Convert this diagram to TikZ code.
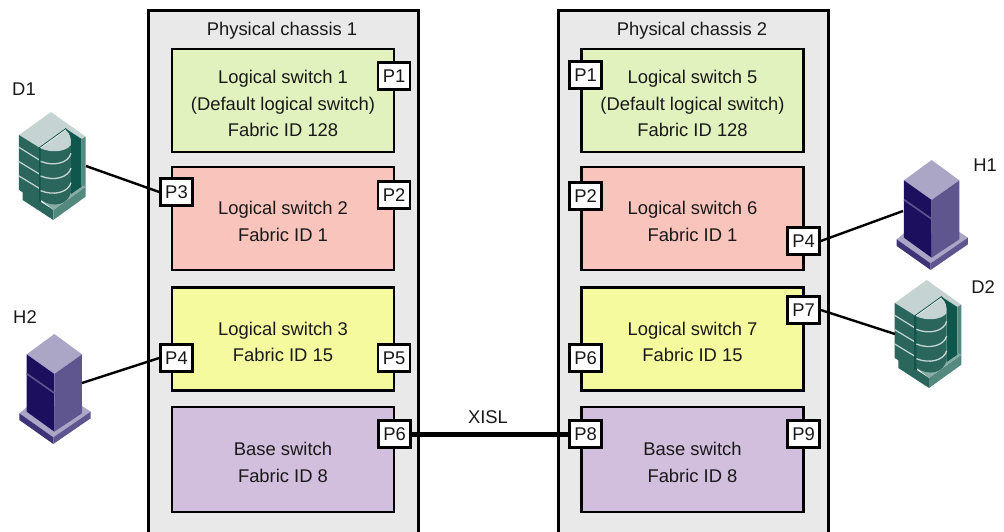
\documentclass[tikz,border=0pt]{standalone}
\usepackage{fontspec}
\setmainfont{Liberation Sans}
\definecolor{chassisfill}{HTML}{E9E9E9}
\definecolor{greenfill}{HTML}{E2F2BE}
\definecolor{redfill}{HTML}{F8C4BC}
\definecolor{yellowfill}{HTML}{F5FA9E}
\definecolor{purplefill}{HTML}{D2BEDD}
\definecolor{tealtop}{HTML}{C5D4D3}
\definecolor{tealdark}{HTML}{2A665C}
\definecolor{tealdeep}{HTML}{0F574C}
\definecolor{tealmid}{HTML}{53897F}
\definecolor{servtop}{HTML}{ABA5C6}
\definecolor{servdark}{HTML}{1B0F5E}
\definecolor{servmid}{HTML}{5F5690}
\newcommand{\sws}{\rule{0pt}{19.5pt}}
\tikzset{
  every node/.style={font=\fontsize{18.4}{26.5}\selectfont,text=black!90},
  chassis/.style={draw=black,line width=3pt,fill=chassisfill},
  switchbox/.style={draw=black,line width=2.6pt,minimum width=222pt,minimum height=103pt,align=center,inner sep=0pt},
  port/.style={draw=black,line width=2.6pt,fill=white,minimum width=32pt,minimum height=27pt,inner sep=0pt},
  link/.style={draw=black,line width=2.4pt},
  trunk/.style={draw=black,line width=5pt},
  plain/.style={inner sep=0pt},
}
\newcommand{\diskunit}[2]{%
 \begin{scope}[shift={(#1,#2)},x=0.3333pt,y=-0.3333pt]
  \fill[tealdark] (68,360)--(160,420)--(160,450)--(68,390)--cycle;
  \fill[tealmid] (160,420)--(257,350)--(257,380)--(160,450)--cycle;
  \fill[tealmid!70!white] (100,370)--(215,350)--(245,345)--(257,350)--(160,420)--cycle;
  \fill[tealtop] (57,195)--(153,126)--(257,200)--(245,207)--(197,176)--(118,233)--cycle;
  \fill[tealdeep] (197,176)--(245,207)--(245,350)--(213,372)--(213,225)--cycle;
  \fill[tealmid] (245,207)--(257,200)--(257,350)--(245,345)--cycle;
  \fill[tealdark] (57,195)--(118,233)--(118,398)--(57,360)--cycle;
  \draw[tealtop,line width=1.2pt] (57,232)--(118,270) (57,275)--(118,312) (57,318)--(118,355);
  \fill[tealdeep] (116,233)--(124,233)--(124,395)--(116,395)--cycle;
  \fill[tealdark] (122,235)--(122,390) .. controls (160,415) and (205,405) .. (213,365)--(213,225)--cycle;
  \fill[tealtop] (122,235)--(197,180) .. controls (212,190) and (215,210) .. (213,225) .. controls (195,248) and (150,248) .. (122,235)--cycle;
  \draw[tealdeep,line width=0.8pt] (118,233)--(197,176) .. controls (212,186) and (216,205) .. (214,225);
  \draw[tealtop,line width=1.3pt] (122,274) .. controls (160,290) and (205,280) .. (213,250);
  \draw[tealtop,line width=1.3pt] (122,318) .. controls (160,334) and (205,324) .. (213,294);
  \draw[tealtop,line width=1.3pt] (122,362) .. controls (160,378) and (205,368) .. (213,338);
 \end{scope}}
\newcommand{\serverunit}[2]{%
 \begin{scope}[shift={(#1,#2)},x=0.3333pt,y=-0.3333pt]
  \fill[servtop] (58,340)--(80,322)--(246,318)--(272,335)--(160,412)--cycle;
  \fill[servdark!85!white] (58,340)--(160,412)--(160,432)--(58,360)--cycle;
  \fill[servmid] (160,412)--(272,335)--(272,355)--(160,432)--cycle;
  \fill[servtop] (80,163)--(163,102)--(246,163)--(163,222)--cycle;
  \fill[servdark] (80,163)--(163,222)--(163,395)--(80,335)--cycle;
  \fill[servmid] (246,163)--(163,222)--(163,395)--(246,340)--cycle;
  \draw[servmid,line width=1.6pt] (80,221)--(163,279);
 \end{scope}}
\begin{document}
\begin{tikzpicture}[x=1pt,y=-1pt]
\useasboundingbox (0,0) rectangle (1004,531);
\begin{scope}
\clip (0,0) rectangle (1004,531);
\draw[chassis] (148,10) rectangle (418,545);
\draw[chassis] (558,10) rectangle (828,545);
\end{scope}
\node[plain] (c1) at (282,30.5) {Physical chassis 1};
\node[plain] (c2) at (692,30.5) {Physical chassis 2};

\node[switchbox,fill=greenfill] (s1) at (283,100.5) {\sws Logical switch 1\\(Default logical switch)\\Fabric ID 128};
\node[switchbox,fill=redfill] (s2) at (283,218.5) {\sws Logical switch 2\\Fabric ID 1};
\node[switchbox,fill=yellowfill] (s3) at (283,339) {\sws Logical switch 3\\Fabric ID 15};
\node[switchbox,fill=purplefill,minimum height=105pt] (s4) at (283,459.5) {\sws Base switch\\Fabric ID 8};
\node[switchbox,fill=greenfill] (s5) at (692.5,100.5) {\sws Logical switch 5\\(Default logical switch)\\Fabric ID 128};
\node[switchbox,fill=redfill] (s6) at (692.5,218.5) {\sws Logical switch 6\\Fabric ID 1};
\node[switchbox,fill=yellowfill] (s7) at (692.5,339) {\sws Logical switch 7\\Fabric ID 15};
\node[switchbox,fill=purplefill,minimum height=105pt] (s8) at (692.5,459.5) {\sws Base switch\\Fabric ID 8};

\diskunit{0}{70}
\serverunit{0}{300}
\serverunit{877.3}{126}
\diskunit{875.7}{238}

\coordinate (d1end) at (86,166);
\coordinate (h2end) at (82,383);
\coordinate (h1end) at (903,211);
\coordinate (d2end) at (895,334);

\node[port] (a1) at (394,76) {P1};
\node[port] (a2) at (394,195) {P2};
\node[port] (a3) at (176.5,192) {P3};
\node[port] (a4) at (176.5,358) {P4};
\node[port] (a5) at (394,358) {P5};
\node[port] (a6) at (394.5,434) {P6};
\node[port] (b1) at (585.5,75) {P1};
\node[port] (b2) at (585.5,196) {P2};
\node[port] (b4) at (803.5,241) {P4};
\node[port] (b6) at (585.5,358) {P6};
\node[port] (b7) at (803.5,310) {P7};
\node[port] (b8) at (585.5,434) {P8};
\node[port] (b9) at (803.5,434) {P9};

\draw[link] (d1end) -- (a3.west);
\draw[link] (h2end) -- (a4.west);
\draw[link] (h1end) -- (b4.east);
\draw[link] (d2end) -- (b7.east);
\draw[trunk] (a6.east) -- (b8.west);

\node[plain] (xisl) at (488,417) {XISL};
\node[plain] (d1) at (24,89) {D1};
\node[plain] (h2) at (25,317) {H2};
\node[plain] (h1) at (985,165) {H1};
\node[plain] (d2) at (983,287) {D2};
\end{tikzpicture}
\end{document}
